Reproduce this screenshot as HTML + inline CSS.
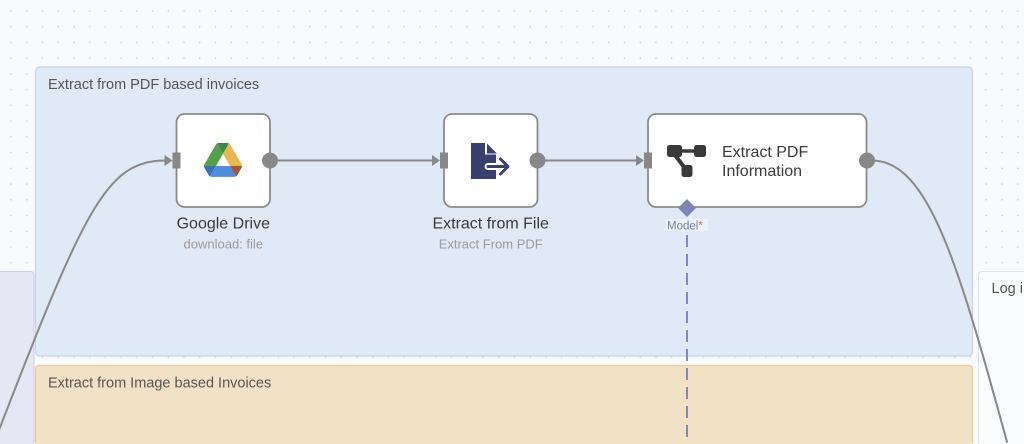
<!DOCTYPE html>
<html><head><meta charset="utf-8"><style>
html,body{margin:0;padding:0;width:1024px;height:444px;overflow:hidden;background:#f9fafc;}
svg{display:block;overflow:hidden;font-family:"Liberation Sans",Arial,sans-serif;}
</style></head><body>
<svg width="1024" height="444" viewBox="0 0 1024 444" xmlns="http://www.w3.org/2000/svg">
<defs>
<pattern id="dots" x="10.25" y="10.25" width="15.73" height="15.73" patternUnits="userSpaceOnUse">
<circle cx="0.75" cy="0.75" r="0.75" fill="#c9ccd3"/>
</pattern>
</defs>
<rect width="1024" height="444" fill="#f9fafc"/>
<rect width="1024" height="444" fill="url(#dots)"/>

<!-- left purple group -->
<path d="M0 271.5 H30 Q34 271.5 34 275.5 V444 H0 Z" fill="#e6e6f4"/>
<path d="M0 271.5 H30 Q34 271.5 34 275.5 V443" fill="none" stroke="#cbcee5" stroke-width="1"/>

<!-- right Log group -->
<path d="M1024 271.5 H982.5 Q978.5 271.5 978.5 275.5 V444 H1024 Z" fill="#fafbfd"/>
<path d="M1024 271.5 H982.5 Q978.5 271.5 978.5 275.5 V443" fill="none" stroke="#dde1e9" stroke-width="1"/>
<text x="991.5" y="293" font-size="14.5" fill="#555">Log i</text>

<!-- blue group -->
<rect x="35.5" y="67" width="937" height="289" rx="4" fill="#e0e9f6" stroke="#c3d4ef" stroke-width="1.2"/>
<text x="48" y="89" font-size="14.5" fill="#555">Extract from PDF based invoices</text>

<!-- orange group -->
<path d="M35.5 444 V369.5 Q35.5 365.5 39.5 365.5 H968.5 Q972.5 365.5 972.5 369.5 V444 Z" fill="#f2e2c5"/>
<path d="M35.5 443 V369.5 Q35.5 365.5 39.5 365.5 H968.5 Q972.5 365.5 972.5 369.5 V443" fill="none" stroke="#ebca8e" stroke-width="1.2"/>
<text x="48" y="387.5" font-size="14.5" fill="#555">Extract from Image based Invoices</text>

<!-- connectors -->
<path d="M-6 443 C84 209.8 105.9 160.5 165 160.5" fill="none" stroke="#888" stroke-width="2"/>
<polygon points="164.5,155 172.5,160.5 164.5,166" fill="#888"/>

<line x1="276" y1="160.5" x2="433" y2="160.5" stroke="#888" stroke-width="2"/>
<polygon points="432,155 440,160.5 432,166" fill="#888"/>

<line x1="543" y1="160.5" x2="637" y2="160.5" stroke="#888" stroke-width="2"/>
<polygon points="636,155 644,160.5 636,166" fill="#888"/>

<path d="M872 160.5 C928.3 160.5 958.2 263.7 1007.2 442.7" fill="none" stroke="#888" stroke-width="2"/>

<!-- dashed model line -->
<line x1="687" y1="235" x2="687" y2="443" stroke="#8089b8" stroke-width="2" stroke-dasharray="12 7"/>

<!-- Node 1 Google Drive -->
<rect x="176.5" y="114" width="93.5" height="93" rx="8" fill="#fff" stroke="#8a8a8a" stroke-width="1.8"/>
<rect x="172.5" y="152.5" width="8" height="16" fill="#888"/>
<circle cx="270" cy="160.5" r="8" fill="#888"/>
<g transform="translate(204,143) scale(0.435)">
<path d="m6.6 66.85 3.85 6.65c.8 1.4 1.950 2.5 3.3 3.3l13.75-23.8h-27.5c0 1.55.4 3.1 1.2 4.5z" fill="#3d6fc0"/>
<path d="m43.65 25-13.75-23.8c-1.35.8-2.5 1.9-3.3 3.3l-25.4 44a9.06 9.06 0 0 0 -1.2 4.5h27.5z" fill="#55a04a"/>
<path d="m73.55 76.8c1.35-.8 2.5-1.9 3.3-3.3l1.6-2.75 7.65-13.250c.8-1.4 1.2-2.95 1.2-4.5h-27.502l5.852 11.5z" fill="#a0573a"/>
<path d="m43.65 25 13.75-23.8c-1.35-.8-2.9-1.2-4.5-1.2h-18.5c-1.6 0-3.15.45-4.5 1.2z" fill="#3e8a42"/>
<path d="m59.8 53h-32.3l-13.75 23.8c1.35.8 2.9 1.2 4.5 1.2h50.8c1.6 0 3.15-.45 4.5-1.2z" fill="#4e8ce0"/>
<path d="m73.4 26.5-12.7-22c-.8-1.4-1.950-2.5-3.3-3.3l-13.75 23.8 16.15 28h27.45c0-1.55-.4-3.1-1.2-4.5z" fill="#ebb650"/>
</g>
<text x="223.3" y="228.5" font-size="16" fill="#3a3a3a" text-anchor="middle">Google Drive</text>
<text x="223.3" y="248.5" font-size="13" fill="#9a9a9a" text-anchor="middle">download: file</text>

<!-- Node 2 Extract from File -->
<rect x="444" y="114" width="93.5" height="93" rx="8" fill="#fff" stroke="#8a8a8a" stroke-width="1.8"/>
<rect x="440" y="152.5" width="8" height="16" fill="#888"/>
<circle cx="537.5" cy="160.5" r="8" fill="#888"/>
<path d="M471 143 H485 V154.5 H496 V179 H471 Z" fill="#3b3f6f"/>
<path d="M487 143.5 L497 153.5 H487 Z" fill="#3b3f6f"/>
<path d="M488 166.5 H505 M500.5 159 L508 166.5 L500.5 174" fill="none" stroke="#fff" stroke-width="7" stroke-linecap="round" stroke-linejoin="round"/>
<path d="M488 166.5 H505 M500.5 159 L508 166.5 L500.5 174" fill="none" stroke="#3b3f6f" stroke-width="3" stroke-linecap="round" stroke-linejoin="round"/>
<text x="490.7" y="228.5" font-size="16" fill="#3a3a3a" text-anchor="middle">Extract from File</text>
<text x="490.7" y="248.5" font-size="13" fill="#9a9a9a" text-anchor="middle">Extract From PDF</text>

<!-- Node 3 Extract PDF Information -->
<rect x="648" y="114" width="218.5" height="93" rx="8" fill="#fff" stroke="#8a8a8a" stroke-width="1.8"/>
<rect x="644" y="152.5" width="8" height="16" fill="#888"/>
<circle cx="867" cy="160.5" r="8" fill="#888"/>
<g fill="#3a3a3a">
<rect x="667" y="145" width="15" height="12" rx="2.5"/>
<rect x="694" y="145" width="12" height="12" rx="2.5"/>
<rect x="681.5" y="165" width="11" height="12" rx="2.5"/>
</g>
<line x1="680" y1="151" x2="696" y2="151" stroke="#3a3a3a" stroke-width="3.5"/>
<line x1="675" y1="155" x2="684" y2="167" stroke="#3a3a3a" stroke-width="4"/>
<text x="722" y="157" font-size="16" fill="#3a3a3a">Extract PDF</text>
<text x="722" y="176" font-size="16" fill="#3a3a3a">Information</text>

<!-- model handle -->
<polygon points="687,199 696,208 687,217 678,208" fill="#7b86b6"/>
<rect x="666" y="219" width="42" height="12" fill="#edf2f9"/>
<text x="667" y="229.5" font-size="11.5" fill="#7580ad">Model<tspan fill="#c86a2e">*</tspan></text>
</svg>
</body></html>
